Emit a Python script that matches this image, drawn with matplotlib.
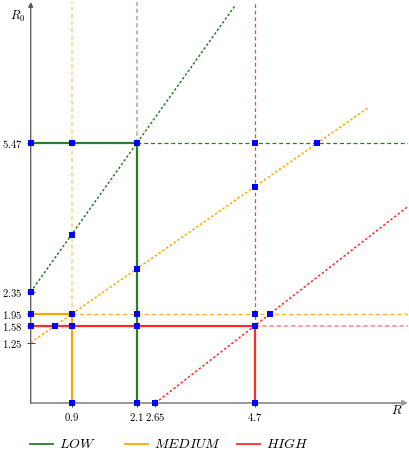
import matplotlib
matplotlib.use('Agg')
import matplotlib.pyplot as plt
from matplotlib.lines import Line2D

plt.rcParams['mathtext.fontset'] = 'cm'

# R axis: printed labels and where they sit on the drawn axis
r_labels = ['0.9', '2.1', '2.65', '4.7']
r_ticks = [0.86, 2.23, 2.62, 4.71]

# R0 axis: printed labels and where they sit on the drawn axis
r0_labels = ['1.25', '1.58', '1.95', '2.35', '5.47']
r0_ticks = [1.27, 1.63, 1.87, 2.34, 5.47]

# groups (threshold corner for each)
groups = ['LOW', 'MEDIUM', 'HIGH']
colors = ['#2b7d2b', '#ffa500', '#ff2a2a']
group_r = [2.23, 0.86, 4.71]
group_r0 = [5.47, 1.87, 1.63]

# diagonal lines: start point, they go through the group corner
diag_start_r = [0.0, 0.0, 2.62]
diag_start_r0 = [2.34, 1.27, 0.0]
diag_end_r = [4.31, 7.09, 7.93]

XMAX, YMAX = 7.926, 8.442


def diag_y(i, x):
    slope = (group_r0[i] - diag_start_r0[i]) / (group_r[i] - diag_start_r[i])
    return diag_start_r0[i] + slope * (x - diag_start_r[i])


def diag_x(i, y):
    slope = (group_r0[i] - diag_start_r0[i]) / (group_r[i] - diag_start_r[i])
    return diag_start_r[i] + (y - diag_start_r0[i]) / slope


fig = plt.figure(figsize=(4.10, 4.51), dpi=100)
ax = fig.add_axes([30.7 / 410, 48 / 451, 377.3 / 410, 401 / 451])
ax.set_xlim(0, XMAX)
ax.set_ylim(0, YMAX)
for s in ax.spines.values():
    s.set_visible(False)

# vertical / horizontal extensions (dashed)
ext_style = {
    0: dict(v=dict(alpha=0.45, lw=1.3, ls=(0, (2.4, 1.6))),
            h=dict(alpha=1.0, lw=0.9, ls=(0, (3.2, 2.2)))),
    1: dict(v=dict(alpha=0.45, lw=1.3, ls=(0, (2.4, 1.6))),
            h=dict(alpha=0.85, lw=1.0, ls=(0, (3.0, 2.2)))),
    2: dict(v=dict(alpha=0.9, lw=0.9, ls=(0, (3.0, 2.2))),
            h=dict(alpha=0.5, lw=1.3, ls=(0, (2.4, 1.6)))),
}
for i in range(3):
    c = colors[i]
    st = ext_style[i]
    ax.plot([group_r[i], group_r[i]], [group_r0[i], YMAX], color=c, **st['v'], zorder=2)
    ax.plot([group_r[i], XMAX], [group_r0[i], group_r0[i]], color=c, **st['h'], zorder=2)

# diagonal lines
for i in range(3):
    xs = [diag_start_r[i], diag_end_r[i]]
    ys = [diag_y(i, x) for x in xs]
    ax.plot(xs, ys, color=colors[i], lw=1.1, ls=(0, (1.6, 1.4)), zorder=2)

# solid threshold corners
for i in range(3):
    ax.plot([0, group_r[i], group_r[i]], [group_r0[i], group_r0[i], 0],
            color=colors[i], lw=1.6, zorder=3, solid_joinstyle='miter')

# intersection points
pts = set()
for x in group_r:
    pts.add((x, 0.0))
    for y in group_r0:
        pts.add((x, y))
for y in group_r0:
    pts.add((0.0, y))
pts.add((diag_start_r[0], diag_start_r0[0]))
pts.add((diag_start_r[2], diag_start_r0[2]))
for i in range(3):
    for x in group_r:
        y = diag_y(i, x)
        if 0 <= y <= YMAX and x <= diag_end_r[i]:
            pts.add((x, y))
    for y in group_r0:
        x = diag_x(i, y)
        if diag_start_r[i] <= x <= diag_end_r[i]:
            pts.add((x, y))
px = [p[0] for p in pts]
py = [p[1] for p in pts]
ax.plot(px, py, 's', color='#0000ff', ms=4.0, mew=0, zorder=5, clip_on=False)

# axes with arrows
ax.annotate('', xy=(XMAX, 0), xytext=(0, 0), annotation_clip=False,
            arrowprops=dict(arrowstyle='-|>', color='#999999', lw=1.4,
                            mutation_scale=7, shrinkA=0, shrinkB=0), zorder=1)
ax.annotate('', xy=(0, YMAX), xytext=(0, 0), annotation_clip=False,
            arrowprops=dict(arrowstyle='-|>', color='#555555', lw=0.9,
                            mutation_scale=7, shrinkA=0, shrinkB=0), zorder=1)

ax.set_xticks(r_ticks)
ax.set_xticklabels(['$' + l + '$' for l in r_labels])
ax.set_yticks(r0_ticks)
ax.set_yticklabels(['$' + l + '$' for l in r0_labels])
ax.tick_params(direction='inout', length=6, width=0.7, color='#444444',
               labelsize=7.7, pad=2.5)
ax.tick_params(axis='y', pad=3.0)

fig.text(18 / 410, 1 - 16 / 451, '$R_0$', fontsize=9, ha='center', va='center')
fig.text(397 / 410, 1 - 411 / 451, '$R$', fontsize=9, ha='center', va='center')

# legend
leg_x = [30, 125, 237]
for i in range(3):
    y = 1 - 444 / 451
    fig.add_artist(Line2D([leg_x[i] / 410, (leg_x[i] + 23) / 410], [y, y],
                          color=colors[i], lw=1.3))
    fig.text((leg_x[i] + 29) / 410, y, '$' + groups[i] + '$', fontsize=10,
             ha='left', va='center')

fig.savefig('out.png', dpi=100)
